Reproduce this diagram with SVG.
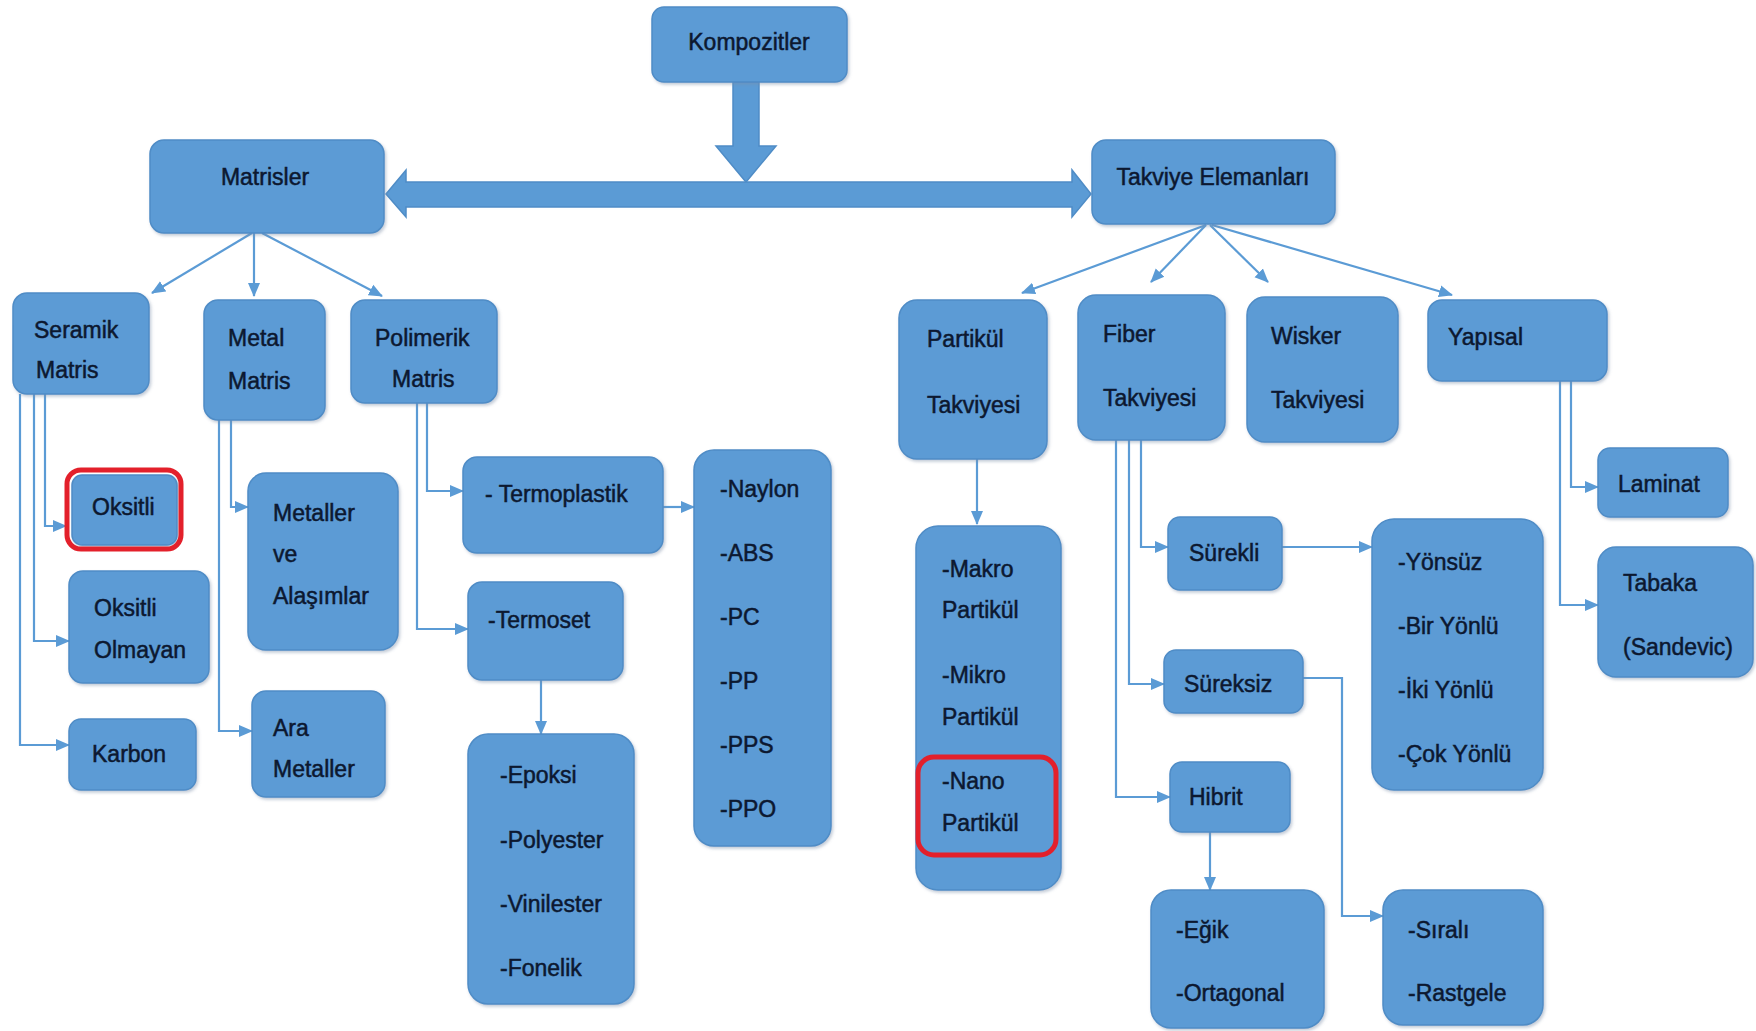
<svg xmlns="http://www.w3.org/2000/svg" width="1756" height="1031" viewBox="0 0 1756 1031">
<defs>
<marker id="ah" markerUnits="userSpaceOnUse" markerWidth="14" markerHeight="14" viewBox="0 0 14 14" refX="13" refY="7" orient="auto">
<path d="M0,1 L14,7 L0,13 z" fill="#5b9bd5"/>
</marker>
<filter id="sh" x="-10%" y="-10%" width="125%" height="125%">
<feDropShadow dx="1.5" dy="2" stdDeviation="1.5" flood-color="#7a8ea8" flood-opacity="0.45"/>
</filter>
</defs>
<style>
.b{fill:#5b9bd5;stroke:#4f8cc6;stroke-width:1.5;filter:url(#sh)}
.r{fill:none;stroke:#e3202b;stroke-width:5}
.t{font-family:"Liberation Sans",Arial,sans-serif;font-size:23px;fill:#0c1830;stroke:#0c1830;stroke-width:0.5;dominant-baseline:central}
.c{fill:none;stroke:#5b9bd5;stroke-width:2.2}
.ca{fill:none;stroke:#5b9bd5;stroke-width:2.2;marker-end:url(#ah)}
.big{fill:#5b9bd5;stroke:#4f8cc6;stroke-width:1.5}
</style>
<rect width="1756" height="1031" fill="#ffffff"/>

<g id="connectors">
<polygon class="big" points="733,82 759,82 759,146 776,146 746,182 716,146 733,146"/>
<polygon class="big" points="386,194 406,170 406,182 1072,182 1072,170 1091,194 1072,217 1072,207 406,207 406,217"/>
<line class="ca" x1="252" y1="233" x2="152" y2="293"/>
<line class="ca" x1="254" y1="233" x2="254" y2="296"/>
<line class="ca" x1="262" y1="233" x2="382" y2="296"/>
<line class="ca" x1="1206" y1="225" x2="1022" y2="293"/>
<line class="ca" x1="1206" y1="225" x2="1151" y2="282"/>
<line class="ca" x1="1210" y1="225" x2="1268" y2="282"/>
<line class="ca" x1="1212" y1="225" x2="1452" y2="295"/>
<path class="ca" d="M45,394 V526 H66"/>
<path class="ca" d="M34,394 V641 H69"/>
<path class="ca" d="M20,394 V745 H69"/>
<path class="ca" d="M231,420 V507 H248"/>
<path class="ca" d="M219,420 V731 H252"/>
<path class="ca" d="M427,403 V491 H463"/>
<path class="ca" d="M417,403 V629 H468"/>
<path class="ca" d="M663,507 H694"/>
<path class="ca" d="M541,680 V734"/>
<path class="ca" d="M977,459 V524"/>
<path class="ca" d="M1141,440 V547 H1168"/>
<path class="ca" d="M1129,440 V684 H1164"/>
<path class="ca" d="M1116,440 V797 H1170"/>
<path class="ca" d="M1282,547 H1372"/>
<path class="ca" d="M1303,678 H1342 V916 H1383"/>
<path class="ca" d="M1210,832 V890"/>
<path class="ca" d="M1571,381 V487 H1598"/>
<path class="ca" d="M1560,381 V605 H1598"/>
</g>

<g id="kompozitler"><rect class="b" x="652" y="7" width="195" height="75" rx="12"/><text class="t" x="749" y="42" text-anchor="middle">Kompozitler</text></g>
<g id="matrisler"><rect class="b" x="150" y="140" width="234" height="93" rx="14"/><text class="t" x="265" y="177" text-anchor="middle">Matrisler</text></g>
<g id="takviye"><rect class="b" x="1092" y="140" width="243" height="84" rx="14"/><text class="t" x="1213" y="177" text-anchor="middle">Takviye Elemanları</text></g>

<g id="seramik"><rect class="b" x="13" y="293" width="136" height="101" rx="14"/><text class="t" x="34" y="330">Seramik</text><text class="t" x="36" y="370">Matris</text></g>
<g id="metal"><rect class="b" x="204" y="300" width="121" height="120" rx="14"/><text class="t" x="228" y="338">Metal</text><text class="t" x="228" y="381">Matris</text></g>
<g id="polimerik"><rect class="b" x="351" y="300" width="146" height="103" rx="14"/><text class="t" x="375" y="338">Polimerik</text><text class="t" x="392" y="379">Matris</text></g>

<g id="oksitli"><rect class="b" x="72" y="475" width="105" height="70" rx="10"/><rect class="r" x="67" y="470" width="114" height="79" rx="14"/><text class="t" x="92" y="507">Oksitli</text></g>
<g id="oksitli-olmayan"><rect class="b" x="69" y="571" width="140" height="112" rx="14"/><text class="t" x="94" y="608">Oksitli</text><text class="t" x="94" y="650">Olmayan</text></g>
<g id="karbon"><rect class="b" x="69" y="719" width="127" height="71" rx="12"/><text class="t" x="92" y="754">Karbon</text></g>

<g id="metaller"><rect class="b" x="248" y="473" width="150" height="177" rx="18"/><text class="t" x="273" y="513">Metaller</text><text class="t" x="273" y="554">ve</text><text class="t" x="273" y="596">Alaşımlar</text></g>
<g id="ara-metaller"><rect class="b" x="252" y="691" width="133" height="106" rx="14"/><text class="t" x="273" y="728">Ara</text><text class="t" x="273" y="769">Metaller</text></g>

<g id="termoplastik"><rect class="b" x="463" y="457" width="200" height="96" rx="14"/><text class="t" x="485" y="494">- Termoplastik</text></g>
<g id="termoset"><rect class="b" x="468" y="582" width="155" height="98" rx="14"/><text class="t" x="488" y="620">-Termoset</text></g>
<g id="epoksi-list"><rect class="b" x="468" y="734" width="166" height="270" rx="20"/><text class="t" x="500" y="775">-Epoksi</text><text class="t" x="500" y="840">-Polyester</text><text class="t" x="500" y="904">-Vinilester</text><text class="t" x="500" y="968">-Fonelik</text></g>
<g id="naylon-list"><rect class="b" x="694" y="450" width="137" height="396" rx="20"/><text class="t" x="720" y="489">-Naylon</text><text class="t" x="720" y="553">-ABS</text><text class="t" x="720" y="617">-PC</text><text class="t" x="720" y="681">-PP</text><text class="t" x="720" y="745">-PPS</text><text class="t" x="720" y="809">-PPO</text></g>

<g id="partikul"><rect class="b" x="899" y="300" width="148" height="159" rx="18"/><text class="t" x="927" y="339">Partikül</text><text class="t" x="927" y="405">Takviyesi</text></g>
<g id="fiber"><rect class="b" x="1078" y="295" width="147" height="145" rx="18"/><text class="t" x="1103" y="334">Fiber</text><text class="t" x="1103" y="398">Takviyesi</text></g>
<g id="wisker"><rect class="b" x="1247" y="297" width="151" height="145" rx="18"/><text class="t" x="1271" y="336">Wisker</text><text class="t" x="1271" y="400">Takviyesi</text></g>
<g id="yapisal"><rect class="b" x="1428" y="300" width="179" height="81" rx="14"/><text class="t" x="1448" y="337">Yapısal</text></g>

<g id="partikul-list"><rect class="b" x="916" y="526" width="145" height="364" rx="22"/><text class="t" x="942" y="569">-Makro</text><text class="t" x="942" y="610">Partikül</text><text class="t" x="942" y="675">-Mikro</text><text class="t" x="942" y="717">Partikül</text><text class="t" x="942" y="781">-Nano</text><text class="t" x="942" y="823">Partikül</text><rect class="r" x="918" y="757" width="138" height="98" rx="16"/></g>

<g id="surekli"><rect class="b" x="1168" y="517" width="114" height="73" rx="12"/><text class="t" x="1189" y="553">Sürekli</text></g>
<g id="sureksiz"><rect class="b" x="1164" y="650" width="139" height="63" rx="12"/><text class="t" x="1184" y="684">Süreksiz</text></g>
<g id="hibrit"><rect class="b" x="1170" y="762" width="120" height="70" rx="12"/><text class="t" x="1189" y="797">Hibrit</text></g>
<g id="yon-list"><rect class="b" x="1372" y="519" width="171" height="271" rx="22"/><text class="t" x="1398" y="562">-Yönsüz</text><text class="t" x="1398" y="626">-Bir Yönlü</text><text class="t" x="1398" y="690">-İki Yönlü</text><text class="t" x="1398" y="754">-Çok Yönlü</text></g>
<g id="egik-list"><rect class="b" x="1151" y="890" width="173" height="138" rx="20"/><text class="t" x="1176" y="930">-Eğik</text><text class="t" x="1176" y="993">-Ortagonal</text></g>
<g id="sirali-list"><rect class="b" x="1383" y="890" width="160" height="135" rx="20"/><text class="t" x="1408" y="930">-Sıralı</text><text class="t" x="1408" y="993">-Rastgele</text></g>

<g id="laminat"><rect class="b" x="1598" y="448" width="130" height="69" rx="12"/><text class="t" x="1618" y="484">Laminat</text></g>
<g id="tabaka"><rect class="b" x="1598" y="547" width="155" height="130" rx="18"/><text class="t" x="1623" y="583">Tabaka</text><text class="t" x="1623" y="647">(Sandevic)</text></g>
</svg>
